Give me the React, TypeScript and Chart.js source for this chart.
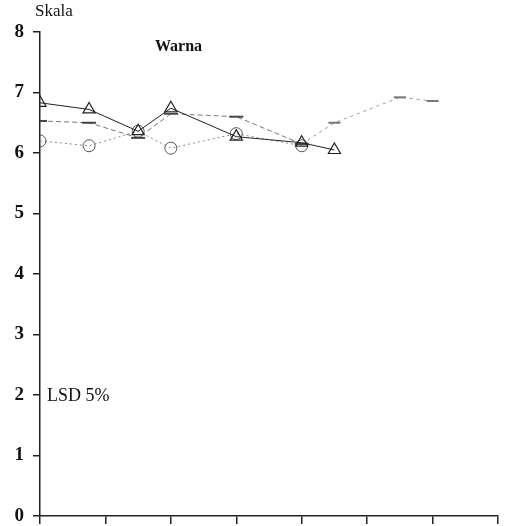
import React, { useEffect, useRef } from "react";
import { Chart, registerables } from "chart.js";

Chart.register(...registerables);

const yTicks = [0, 1, 2, 3, 4, 5, 6, 7, 8];

const s1X = [0, 0.75, 1.5, 2, 3, 4, 4.5];
const s1Y = [6.83, 6.72, 6.36, 6.74, 6.27, 6.17, 6.05];

const s2X = [0, 0.75, 1.5, 2, 3, 4];
const s2Y = [6.53, 6.5, 6.25, 6.65, 6.6, 6.15];

const s3X = [0, 0.75, 1.5, 2, 3, 4];
const s3Y = [6.2, 6.12, 6.36, 6.08, 6.32, 6.12];

const s4X = [4, 4.5, 5.5, 6];
const s4Y = [6.15, 6.5, 6.92, 6.86];

const toPts = (xs: number[], ys: number[]) => xs.map((x, i) => ({ x, y: ys[i] }));

const textPlugin = {
  id: "texts",
  afterDraw(chart: any) {
    const ctx = chart.ctx;
    ctx.save();
    ctx.fillStyle = "#111";
    ctx.textBaseline = "middle";
    ctx.textAlign = "left";
    ctx.font = "17px 'Liberation Serif'";
    ctx.fillText("Skala", 35, 12);
    ctx.font = "bold 16px 'Liberation Serif'";
    ctx.fillText("Warna", 155, 47);
    ctx.font = "18px 'Liberation Serif'";
    ctx.fillText("LSD 5%", 47, 396);
    ctx.restore();
  },
};

export default function App() {
  const ref = useRef<HTMLCanvasElement>(null);
  useEffect(() => {
    const chart = new Chart(ref.current!, {
      type: "line",
      data: {
        datasets: [
          {
            data: toPts(s1X, s1Y),
            borderColor: "#222",
            borderWidth: 1,
            pointStyle: "triangle",
            pointRadius: 7,
            pointBorderColor: "#222",
            pointBackgroundColor: "rgba(255,255,255,0)",
            pointBorderWidth: 1.2,
          },
          {
            data: toPts(s2X, s2Y),
            borderColor: "#777",
            borderWidth: 1,
            borderDash: [5, 3],
            pointStyle: "line",
            pointRadius: 7,
            pointBorderColor: "#444",
            pointBorderWidth: 2,
          },
          {
            data: toPts(s3X, s3Y),
            borderColor: "#888",
            borderWidth: 1,
            borderDash: [2, 3],
            pointStyle: "circle",
            pointRadius: 6,
            pointBorderColor: "#555",
            pointBackgroundColor: "rgba(255,255,255,0)",
            pointBorderWidth: 1,
          },
          {
            data: toPts(s4X, s4Y),
            borderColor: "#999",
            borderWidth: 1,
            borderDash: [3, 4],
            pointStyle: "line",
            pointRadius: 6,
            pointBorderColor: "#777",
            pointBorderWidth: 2,
          },
        ],
      },
      options: {
        responsive: false,
        animation: false,
        layout: { padding: { top: 32, right: 12, left: 0, bottom: 0 } },
        plugins: { legend: { display: false }, tooltip: { enabled: false } },
        scales: {
          x: {
            type: "linear",
            min: 0,
            max: 7,
            ticks: { stepSize: 1, display: false },
            grid: { drawOnChartArea: false, drawTicks: true, tickLength: 8, color: "#222", lineWidth: 1.5 },
            border: { display: true, color: "#222", width: 1.5 },
            afterFit: (s: any) => {
              s.height = 10;
              s.paddingLeft = 0;
              s.paddingRight = 0;
            },
          },
          y: {
            min: 0,
            max: 8,
            afterBuildTicks: (s: any) => {
              s.ticks = yTicks.map((v) => ({ value: v }));
            },
            ticks: {
              color: "#111",
              padding: 9,
              font: { family: "'Liberation Serif'", size: 19, weight: "bold" },
            },
            grid: { drawOnChartArea: false, drawTicks: true, tickLength: 7, color: "#222", lineWidth: 1.5 },
            border: { display: true, color: "#222", width: 1.5 },
            afterFit: (s: any) => {
              s.width = 40;
              s.paddingTop = 0;
              s.paddingBottom = 0;
            },
          },
        },
      },
      plugins: [textPlugin],
    } as any);
    return () => chart.destroy();
  }, []);
  return (
    <canvas
      ref={ref}
      width={510}
      height={526}
      style={{ position: "absolute", left: 0, top: 0, background: "#fff" }}
    />
  );
}
